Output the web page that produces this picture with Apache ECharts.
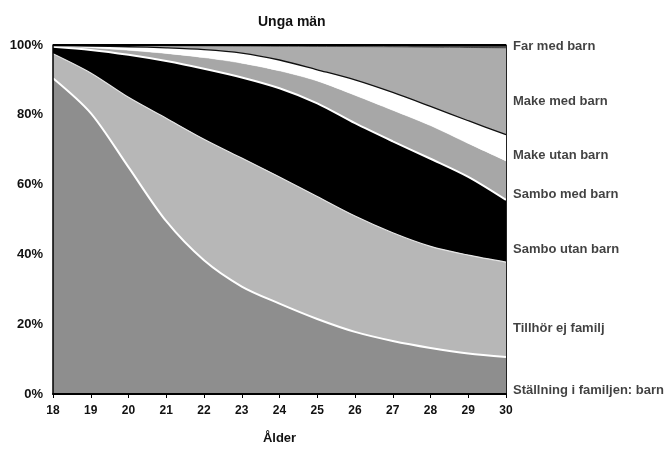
<!DOCTYPE html>
<html>
<head>
<meta charset="utf-8">
<script src="https://cdn.jsdelivr.net/npm/echarts@6/dist/echarts.min.js"></script>
<style>
html,body{margin:0;padding:0;background:#fff;}
#chart{width:667px;height:450px;}
</style>
</head>
<body>
<div id="chart"></div>
<script>
// Categories (age)
var ages = ['18','19','20','21','22','23','24','25','26','27','28','29','30'];
var yTicks = [0, 20, 40, 60, 80, 100];

// Series values (percent shares, stacked bottom to top)
var barn       = [90.5, 80.5, 65.0, 49.5, 38.3, 30.8, 25.9, 21.5, 17.8, 15.2, 13.2, 11.6, 10.6];
var tillhor    = [7.0, 11.5, 20.0, 29.5, 34.7, 36.8, 36.3, 35.1, 33.2, 31.0, 29.1, 28.2, 27.2];
var samboUtan  = [2.0, 6.6, 12.2, 16.4, 20.2, 23.1, 25.4, 26.7, 26.6, 26.2, 25.1, 22.4, 17.8];
var samboMed   = [0.2, 0.6, 1.3, 2.2, 3.2, 4.1, 5.0, 6.4, 8.0, 8.9, 9.5, 9.6, 11.2];
var makeUtan   = [0.15, 0.5, 1.0, 1.6, 2.3, 2.9, 3.1, 3.2, 4.4, 5.1, 5.5, 6.5, 7.5];
var makeMed    = [0.1, 0.2, 0.35, 0.6, 1.05, 2.0, 3.95, 6.7, 9.55, 13.1, 17.0, 21.0, 24.9];
var farMed     = [0.05, 0.1, 0.15, 0.2, 0.25, 0.3, 0.35, 0.4, 0.45, 0.5, 0.6, 0.7, 0.8];

var seriesNames = ['Ställning i familjen: barn', 'Tillhör ej familj', 'Sambo utan barn',
                   'Sambo med barn', 'Make utan barn', 'Make med barn', 'Far med barn'];
// Where each right-hand label sits (value on the y axis, at age 30)
var labelAt = [1.1, 18.8, 41.5, 57.3, 68.5, 83.8, 99.5];

var seriesData = [barn, tillhor, samboUtan, samboMed, makeUtan, makeMed, farMed];
var fills = ['#8e8e8e', '#b7b7b7', '#000000', '#a7a7a7', '#ffffff', '#acacac', '#444444'];
var lines = [
  {color:'#ffffff', width:2},
  {color:'#e6e6e6', width:1.2},
  {color:'#ffffff', width:2},
  {color:'#ffffff', width:0.5},
  {color:'#111111', width:1.3},
  {color:'#333333', width:0.8},
  {color:'#000000', width:2}
];

var FONT = 'Liberation Sans, Arial, sans-serif';

var series = seriesData.map(function (d, i) {
  return {
    name: seriesNames[i],
    type: 'line',
    stack: 'total',
    data: d,
    smooth: 0.3,
    symbol: 'none',
    lineStyle: lines[i],
    areaStyle: {color: fills[i], opacity: 1},
    z: 2
  };
});

series.push({
  type: 'scatter',
  data: seriesNames.map(function (n, i) {
    return {name: n, value: [ages[ages.length - 1], labelAt[i]]};
  }),
  symbolSize: 0,
  clip: false,
  z: 5,
  label: {
    show: true,
    position: 'right',
    distance: 7,
    formatter: function (p) { return p.name; },
    fontFamily: FONT,
    fontSize: 13,
    fontWeight: 'bold',
    color: '#111'
  }
});

var chart = echarts.init(document.getElementById('chart'), null, {renderer: 'canvas'});
chart.setOption({
  animation: false,
  backgroundColor: '#ffffff',
  title: {
    text: 'Unga män',
    left: 253,
    top: 10,
    textStyle: {fontFamily: FONT, fontSize: 14, fontWeight: 'bold', color: '#111'}
  },
  grid: {left: 53, right: 161, top: 45, bottom: 56},
  xAxis: {
    type: 'category',
    data: ages,
    boundaryGap: false,
    name: 'Ålder',
    nameLocation: 'middle',
    nameGap: 38,
    nameTextStyle: {fontFamily: FONT, fontSize: 13, fontWeight: 'bold', color: '#111'},
    axisLine: {show: true, lineStyle: {color: '#000', width: 2}},
    axisTick: {show: true, length: 4, lineStyle: {color: '#000', width: 1}},
    axisLabel: {fontFamily: FONT, fontSize: 12, fontWeight: 'bold', color: '#111', margin: 11},
    splitLine: {show: false},
    z: 10
  },
  yAxis: [{
    type: 'value',
    min: yTicks[0],
    max: yTicks[yTicks.length - 1],
    interval: 20,
    axisLine: {show: true, lineStyle: {color: '#000', width: 1.5}},
    axisTick: {show: false},
    axisLabel: {fontFamily: FONT, fontSize: 13, fontWeight: 'bold', color: '#111', margin: 10,
                formatter: '{value}%'},
    splitLine: {show: false},
    z: 10
  }, {
    type: 'value',
    position: 'right',
    min: 0, max: 100, interval: 20,
    axisLine: {show: true, lineStyle: {color: '#222', width: 1}},
    axisTick: {show: false},
    axisLabel: {show: false},
    splitLine: {show: false},
    z: 10
  }],
  series: series
});
</script>
</body>
</html>
